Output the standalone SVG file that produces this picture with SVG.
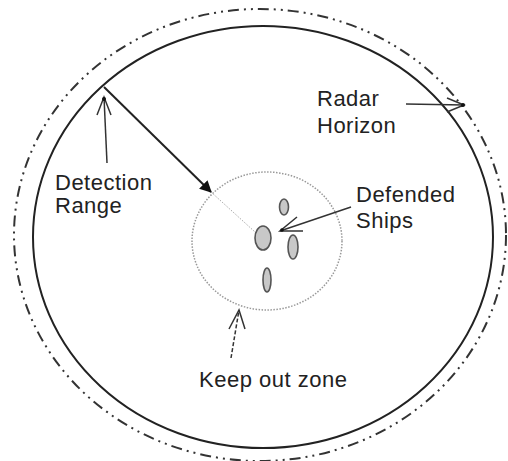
<svg xmlns="http://www.w3.org/2000/svg" width="508" height="461" viewBox="0 0 508 461">
<style>
.lbl{font-family:"Liberation Sans",Arial,sans-serif;font-size:22px;fill:#222;letter-spacing:0.5px}
.ln{fill:none;stroke:#333;stroke-width:1.5}
.ship{fill:#c8c8c8;stroke:#555;stroke-width:1.6}
</style>
<defs>
<marker id="solidHead" viewBox="0 0 10 10" refX="9" refY="5" markerWidth="6" markerHeight="6" orient="auto-start-reverse" markerUnits="strokeWidth">
<path d="M0,0 L10,5 L0,10 z" fill="#111"/>
</marker>
</defs>
<rect width="508" height="461" fill="#fff"/>
<g id="radar-horizon-boundary">
<ellipse cx="260" cy="235" rx="246" ry="226" fill="none" stroke="#333" stroke-width="2" stroke-dasharray="11 5 2 5 2 5"/>
</g>
<g id="detection-range-boundary">
<ellipse cx="263" cy="237" rx="230" ry="211" fill="none" stroke="#222" stroke-width="2"/>
</g>
<g id="keep-out-zone">
<ellipse cx="267" cy="241" rx="75" ry="69" fill="none" stroke="#999" stroke-width="1.5" stroke-dasharray="1.5 1.5"/>
</g>
<g id="ships">
<ellipse class="ship" cx="263" cy="238" rx="8" ry="12"/>
<ellipse class="ship" cx="284" cy="207" rx="4.5" ry="8"/>
<ellipse class="ship" cx="293" cy="247" rx="5" ry="12"/>
<ellipse class="ship" cx="267" cy="280" rx="4" ry="12"/>
</g>
<g id="connectors">
<line x1="104" y1="87" x2="211" y2="192" stroke="#222" stroke-width="2" marker-end="url(#solidHead)"/>
<line x1="211" y1="192" x2="255" y2="232" stroke="#aaa" stroke-width="1" stroke-dasharray="1.5 1.5"/>
<line class="ln" x1="107" y1="163" x2="104" y2="97"/>
<polyline class="ln" points="97,115 104,97 111,115"/>
<circle cx="104" cy="99" r="2" fill="#111"/>
<line class="ln" x1="406" y1="104" x2="464" y2="105"/>
<polyline class="ln" points="447,98 464,105 447,112"/>
<circle cx="463" cy="105" r="2" fill="#111"/>
<line class="ln" x1="351" y1="207" x2="280" y2="231"/>
<polyline class="ln" points="297,217 280,231 303,231"/>
<circle cx="282" cy="230" r="1.8" fill="#111"/>
<line class="ln" x1="231" y1="358" x2="239" y2="310" stroke-dasharray="4 2"/>
<polyline class="ln" points="229,329 239,310 245,329"/>
</g>
<g id="labels">
<text class="lbl" x="55" y="190">Detection</text>
<text class="lbl" x="55" y="213">Range</text>
<text class="lbl" x="317" y="106">Radar</text>
<text class="lbl" x="317" y="133">Horizon</text>
<text class="lbl" x="356" y="202">Defended</text>
<text class="lbl" x="356" y="228">Ships</text>
<text class="lbl" x="199" y="387">Keep out zone</text>
</g>
</svg>
